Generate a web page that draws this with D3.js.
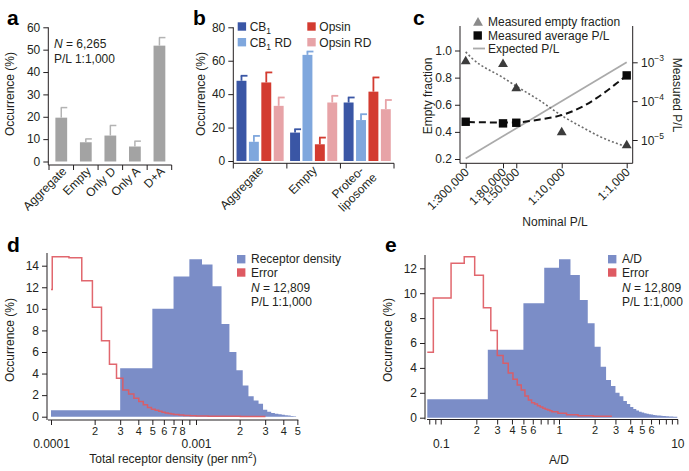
<!DOCTYPE html>
<html><head><meta charset="utf-8">
<script src="https://cdn.jsdelivr.net/npm/d3@7"></script>
<style>
body{margin:0;background:#fff}
svg{display:block}
</style></head><body>
<svg id="fig" width="689" height="471"></svg>
<script>
// ---------------- DATA ----------------
// Panel a
const aCategories = ["Aggregate","Empty","Only D","Only A","D+A"];
const aValues = [19.6, 8.6, 11.6, 6.7, 51.8];
const aErrors = [4.5, 1.5, 4.5, 2.4, 3.6];
const aYTicks = [0,10,20,30,40,50,60];

// Panel b
const bGroups = ["Aggregate","Empty","Proteo-|liposome"];
const bSeries = ["CB1","CB1 RD","Opsin","Opsin RD"];
const bCB1 = [48, 17, 35];
const bCB1RD = [11.5, 63.5, 24.5];
const bOpsin = [47, 10, 41.5];
const bOpsinRD = [33, 35, 31];
const bCB1Err = [3, 2, 3];
const bCB1RDErr = [3.5, 2, 3.5];
const bOpsinErr = [6, 4, 8.5];
const bOpsinRDErr = [5, 4, 5.5];
const bYTicks = [0,20,40,60,80];

// Panel c
const cNominalLabels = ["1:300,000","1:80,000","1:50,000","1:10,000","1:1,000"];
const cNominal = [1/300000, 1/80000, 1/50000, 1/10000, 1/1000];
const cEmptyFraction = [0.92, 0.90, 0.72, 0.396, 0.30];
const cMeasuredNominal = [1/300000, 1/80000, 1/50000, 1/1000];
const cMeasuredPL = [2.95e-5, 2.68e-5, 2.78e-5, 4.6e-4];
const cEmptyFitNominal = [3.33e-6, 4.12e-6, 1.25e-5, 2.03e-5, 4.63e-5, 1e-4, 2.15e-4, 3.88e-4, 1e-3];
const cEmptyFit = [0.99, 0.945, 0.80, 0.735, 0.63, 0.52, 0.43, 0.365, 0.29];
const cPLFitNominal = [3.6e-6, 1.25e-5, 2.03e-5, 4.63e-5, 1e-4, 2.15e-4, 4.37e-4, 7.0e-4, 1e-3];
const cPLFit = [2.9e-5, 2.82e-5, 2.85e-5, 3.39e-5, 4.37e-5, 7.41e-5, 1.58e-4, 2.88e-4, 4.62e-4];
const cExpectedNominal = [1/300000, 1/1000];
const cExpectedPL = [1/300000, 1/1000];
const cLeftTicks = [0.2,0.4,0.6,0.8,1.0];
const cRightTicks = [1e-5,1e-4,1e-3];
const cRightExp = ["−5","−4","−3"];

// Panel d
const dDensityEdges = [1e-4,3e-4,5e-4,7e-4,9e-4,1.1e-3,1.3e-3,1.5e-3,1.7e-3,1.9e-3,2.1e-3,2.3e-3,2.5e-3,2.7e-3,2.9e-3,3.1e-3,3.3e-3,3.5e-3,3.7e-3,3.9e-3,4.1e-3,4.3e-3,4.5e-3,4.7e-3,4.9e-3];
const dDensityValues = [0.6,4.5,10.0,13.0,14.6,14.1,12.1,8.6,6.0,4.3,2.9,1.9,1.5,1.2,0.65,0.45,0.35,0.28,0.22,0.17,0.13,0.1,0.07,0.05];
const dErrorEdges = [0.72e-4,1.02e-4,1.33e-4,1.63e-4,1.93e-4,2.23e-4,2.53e-4,2.83e-4,3.13e-4,3.43e-4,3.73e-4,4.03e-4,4.33e-4,4.63e-4,4.93e-4,5.23e-4,5.53e-4,5.83e-4,6.13e-4,6.43e-4,6.73e-4,7.03e-4,7.63e-4,8.23e-4,9.13e-4,10.03e-4,12.13e-4,15.13e-4,20.23e-4,30.13e-4];
const dErrorValues = [11.8,14.83,14.74,12.6,10.14,7.04,4.86,3.56,2.47,2.1,1.7,1.4,1.1,0.85,0.7,0.6,0.5,0.42,0.35,0.3,0.26,0.2,0.16,0.12,0.09,0.07,0.05,0.04,0.03];
const dXTicks = [1e-4,2e-4,3e-4,4e-4,5e-4,6e-4,7e-4,8e-4,9e-4,1e-3,2e-3,3e-3,4e-3,5e-3];
const dXLabels = ["0.0001","2","3","4","5","6","7","8","","0.001","2","3","4","5"];
const dYTicks = [0,2,4,6,8,10,12,14];

// Panel e
const eRatioEdges = [0,0.25,0.5,0.75,1,1.25,1.5,1.75,2,2.25,2.5,2.75,3,3.25,3.5,3.75,4,4.25,4.5,4.75,5,5.25,5.5,5.75,6,6.25,6.5,6.75,7,7.25,7.5,7.75,8,8.25,8.5,8.75,9,9.25,9.5,9.75,10];
const eRatioValues = [1.48,5.46,9.19,12.05,12.72,11.46,9.45,7.58,5.7,4.1,3.03,2.55,2.0,1.72,1.35,1.1,0.85,0.7,0.58,0.48,0.42,0.36,0.32,0.28,0.25,0.22,0.2,0.18,0.17,0.15,0.14,0.13,0.12,0.11,0.1,0.09,0.09,0.08,0.07,0.07];
const eErrorEdges = [0.0509,0.0866,0.1223,0.158,0.1937,0.2294,0.2651,0.3008,0.3365,0.3722,0.4079,0.4436,0.4793,0.515,0.5507,0.5864,0.6221,0.6578,0.6935,0.7292,0.7649,0.8006,0.8363,0.872,0.979,1.157,1.45,1.95,2.8];
const eErrorValues = [5.25,9.62,12.4,12.93,11.45,8.84,7.0,5.0,4.37,3.6,3.08,2.62,2.22,1.74,1.42,1.2,1.1,0.95,0.85,0.75,0.68,0.62,0.56,0.48,0.35,0.24,0.16,0.11];
const eXTicks = [0.08,0.09,0.1,0.2,0.3,0.4,0.5,0.6,0.7,0.8,0.9,1,2,3,4,5,6,7,8,9,10];
const eXLabels = ["","","0.1","2","3","4","5","6","","","","1","2","3","4","5","6","","","","10"];
const eYTicks = [0,2,4,6,8,10,12];

// ---------------- STYLE ----------------
const FONT = "'Liberation Sans', Arial, Helvetica, sans-serif";
const AX = "#231f20";
const HIST_BLUE = "#7b8dc7";
const ERR_RED = "#de5a62";
const bColors = ["#3a56a5","#7fa7dd","#d33b30","#e7a3a7"];

const svg = d3.select("#fig").attr("font-family", FONT);

function styleAxis(g){
  g.selectAll("path,line").attr("stroke",AX).attr("stroke-width",1);
  g.selectAll("text").attr("fill",AX).attr("font-size",12).attr("font-family",FONT);
}
function leftAxis(scale, x, ticks, fmt, top, bottom){
  const g = svg.append("g").attr("transform",`translate(${x},0)`)
    .call(d3.axisLeft(scale).tickValues(ticks).tickFormat(fmt).tickSize(5).tickSizeOuter(0).tickPadding(3));
  g.select(".domain").attr("d",`M0,${top}V${bottom}`);
  styleAxis(g);
  return g;
}
function panelLetter(t,x,y){
  svg.append("text").attr("x",x).attr("y",y).text(t)
    .attr("font-size",21).attr("font-weight","bold").attr("fill","#000");
}
function yTitle(t,x,y){
  svg.append("text").attr("transform",`translate(${x},${y}) rotate(-90)`)
    .attr("text-anchor","middle").attr("font-size",12).attr("fill",AX).text(t);
}

// ---------------- PANEL a ----------------
panelLetter("a",7,25);
const xA = d3.scaleBand().domain(aCategories).range([49,171.7]);
const yA = d3.scaleLinear().domain([0,60]).range([161.5,27.3]);
leftAxis(yA, 48.3, aYTicks, d3.format("d"), 27.3, 165);
const axA = svg.append("g");
axA.append("line").attr("x1",48.3).attr("x2",xA.range()[1]).attr("y1",165).attr("y2",165);
aCategories.concat(["_end"]).forEach((c,i)=>{
  const x = i<aCategories.length ? xA(c) : xA.range()[1];
  axA.append("line").attr("x1",x).attr("x2",x).attr("y1",165).attr("y2",170);
});
axA.selectAll("line").attr("stroke",AX).attr("stroke-width",1);
const bwA = xA.bandwidth();
svg.append("g").selectAll("rect").data(aValues).join("rect")
  .attr("x",(d,i)=>xA(aCategories[i])+bwA*0.26)
  .attr("width",bwA*0.48)
  .attr("y",d=>yA(d)).attr("height",d=>yA(0)-yA(d))
  .attr("fill","#a3a3a3");
const errA = svg.append("g").attr("stroke","#b3b3b3").attr("stroke-width",1.5);
aValues.forEach((v,i)=>{
  const cx = xA(aCategories[i])+bwA/2;
  errA.append("line").attr("x1",cx).attr("x2",cx).attr("y1",yA(v)).attr("y2",yA(v+aErrors[i]));
  errA.append("line").attr("x1",cx-0.5).attr("x2",cx+6).attr("y1",yA(v+aErrors[i])).attr("y2",yA(v+aErrors[i]));
});
aCategories.forEach(c=>{
  svg.append("text").attr("transform",`translate(${xA(c)+bwA/2+6},172) rotate(-45)`)
    .attr("text-anchor","end").attr("font-size",12).attr("fill",AX).text(c);
});
yTitle("Occurrence (%)",14,94);
const aNote = svg.append("text").attr("x",54).attr("y",48).attr("font-size",12).attr("fill",AX);
aNote.append("tspan").attr("font-style","italic").text("N");
aNote.append("tspan").text(" = 6,265");
svg.append("text").attr("x",54).attr("y",63).attr("font-size",12).attr("fill",AX).text("P/L 1:1,000");

// ---------------- PANEL b ----------------
panelLetter("b",193,25);
const xB = d3.scaleBand().domain(bGroups).range([233.3,394]);
const xBin = d3.scaleBand().domain(bSeries).range([0,xB.bandwidth()]).paddingInner(0.2).paddingOuter(0.26);
const yB = d3.scaleLinear().domain([0,80]).range([161,27.3]);
leftAxis(yB, 233.3, bYTicks, d3.format("d"), 27.3, 163.3);
const axB = svg.append("g");
axB.append("line").attr("x1",233.3).attr("x2",394).attr("y1",163.3).attr("y2",163.3);
bGroups.concat(["_end"]).forEach((g,i)=>{
  const x = i<bGroups.length ? xB(g) : xB.range()[1];
  axB.append("line").attr("x1",x).attr("x2",x).attr("y1",163.3).attr("y2",168.5);
});
axB.selectAll("line").attr("stroke",AX).attr("stroke-width",1);
const bAll = [bCB1,bCB1RD,bOpsin,bOpsinRD];
const bErrAll = [bCB1Err,bCB1RDErr,bOpsinErr,bOpsinRDErr];
bSeries.forEach((s,si)=>{
  const gs = svg.append("g");
  bGroups.forEach((g,gi)=>{
    const v = bAll[si][gi], e = bErrAll[si][gi];
    const x0 = xB(g)+xBin(s), w = xBin.bandwidth(), cx = x0+w/2;
    gs.append("line").attr("x1",cx).attr("x2",cx).attr("y1",yB(v)).attr("y2",yB(v+e))
      .attr("stroke",bColors[si]).attr("stroke-width",1.8);
    gs.append("line").attr("x1",cx-0.8).attr("x2",cx+6).attr("y1",yB(v+e)).attr("y2",yB(v+e))
      .attr("stroke",bColors[si]).attr("stroke-width",1.8);
    gs.append("rect").attr("x",x0).attr("width",w).attr("y",yB(v)).attr("height",yB(0)-yB(v)).attr("fill",bColors[si]);
  });
});
bGroups.forEach((g,gi)=>{
  const cx = xB(g)+xB.bandwidth()/2;
  const lines = g.split("|");
  if(lines.length===1){
    svg.append("text").attr("transform",`translate(${cx+4},171) rotate(-45)`)
      .attr("text-anchor","end").attr("font-size",12).attr("fill",AX).text(g);
  } else {
    const t = svg.append("g").attr("transform",`translate(${cx+6},174) rotate(-45)`);
    const t2 = t.append("text").attr("text-anchor","middle").attr("font-size",12).attr("fill",AX).text(lines[1]);
    const w2 = t2.node().getComputedTextLength();
    t2.attr("x",-w2/2).attr("y",6);
    t.append("text").attr("text-anchor","middle").attr("font-size",12).attr("fill",AX).text(lines[0])
      .attr("x",-w2/2).attr("y",-8);
  }
});
yTitle("Occurrence (%)",205,94);
const legB = [[0,0],[0,1],[1,0],[1,1]];
bSeries.forEach((s,si)=>{
  const lx = 237.7 + legB[si][0]*69.6, ly = 22.3 + legB[si][1]*15.7;
  svg.append("rect").attr("x",lx).attr("y",ly).attr("width",8.4).attr("height",8.4).attr("fill",bColors[si]);
  const t = svg.append("text").attr("x",lx+12).attr("y",ly+8.6).attr("font-size",12).attr("fill",AX);
  if(s.startsWith("CB1")){
    t.append("tspan").text("CB");
    t.append("tspan").attr("font-size",8.5).attr("dy",3).text("1");
    if(s.length>3) t.append("tspan").attr("dy",-3).text(" RD");
  } else t.text(s);
});

// ---------------- PANEL c ----------------
panelLetter("c",413,25);
const xC = d3.scaleLog().domain([1/300000,1/1000]).range([465.7,626.7]);
const yL = d3.scaleLinear().domain([0.2,1.0]).range([159,50.5]);
const yR = d3.scaleLog().domain([1e-5,1e-3]).range([140,62.3]);
leftAxis(yL, 460, cLeftTicks, d3.format(".1f"), 26, 163.3);
const rAx = svg.append("g").attr("transform","translate(632.7,0)")
  .call(d3.axisRight(yR).tickValues(cRightTicks).tickFormat("").tickSize(5).tickSizeOuter(0));
rAx.select(".domain").attr("d","M0,26V163.3");
styleAxis(rAx);
cRightTicks.forEach((v,i)=>{
  const t = svg.append("text").attr("x",641).attr("y",yR(v)+4.5).attr("font-size",12).attr("fill",AX);
  t.append("tspan").text("10");
  t.append("tspan").attr("font-size",8.5).attr("dy",-6).text(cRightExp[i]);
});
const bAx = svg.append("g").attr("transform","translate(0,163.3)")
  .call(d3.axisBottom(xC).tickValues(cNominal).tickFormat("").tickSize(5).tickSizeOuter(0));
bAx.select(".domain").attr("d","M460,0H632.7");
styleAxis(bAx);
cNominal.forEach((v,i)=>{
  svg.append("text").attr("transform",`translate(${xC(v)+4},173) rotate(-45)`)
    .attr("text-anchor","end").attr("font-size",12).attr("fill",AX).text(cNominalLabels[i]);
});
svg.append("text").attr("x",555).attr("y",226).attr("text-anchor","middle").attr("font-size",12).attr("fill",AX).text("Nominal P/L");
yTitle("Empty fraction",432,96);
svg.append("text").attr("transform","translate(673,95) rotate(90)").attr("text-anchor","middle")
  .attr("font-size",12).attr("fill",AX).text("Measured P/L");
svg.append("path").datum(cExpectedNominal.map((n,i)=>[n,cExpectedPL[i]]))
  .attr("d",d3.line().x(d=>xC(d[0])).y(d=>yR(d[1])))
  .attr("fill","none").attr("stroke","#aaaaaa").attr("stroke-width",1.8);
svg.append("path").datum(cEmptyFitNominal.map((n,i)=>[n,cEmptyFit[i]]))
  .attr("d",d3.line().x(d=>xC(d[0])).y(d=>yL(d[1])).curve(d3.curveMonotoneX))
  .attr("fill","none").attr("stroke","#6d6d6d").attr("stroke-width",1.6).attr("stroke-dasharray","2,2.2");
svg.append("path").datum(cPLFitNominal.map((n,i)=>[n,cPLFit[i]]))
  .attr("d",d3.line().x(d=>xC(d[0])).y(d=>yR(d[1])).curve(d3.curveMonotoneX))
  .attr("fill","none").attr("stroke","#111").attr("stroke-width",2).attr("stroke-dasharray","7,4");
const tri = d3.symbol().type(d3.symbolTriangle).size(42);
svg.append("g").selectAll("path").data(cEmptyFraction).join("path")
  .attr("transform",(d,i)=>`translate(${xC(cNominal[i])},${yL(d)})`)
  .attr("d",tri).attr("fill","#3c3c3c");
svg.append("g").selectAll("rect").data(cMeasuredPL).join("rect")
  .attr("x",(d,i)=>xC(cMeasuredNominal[i])-4.2).attr("y",d=>yR(d)-4.2)
  .attr("width",8.4).attr("height",8.4).attr("fill","#0a0a0a");
// legend c
svg.append("path").attr("transform","translate(478,22.8)").attr("d",tri).attr("fill","#8a8a8a");
svg.append("text").attr("x",488).attr("y",26.3).attr("font-size",12).attr("fill",AX).text("Measured empty fraction");
svg.append("rect").attr("x",473.5).attr("y",31.3).attr("width",8.4).attr("height",8.4).attr("fill","#0a0a0a");
svg.append("text").attr("x",488).attr("y",39.6).attr("font-size",12).attr("fill",AX).text("Measured average P/L");
svg.append("line").attr("x1",473).attr("x2",485).attr("y1",48.5).attr("y2",48.5).attr("stroke","#aaaaaa").attr("stroke-width",1.8);
svg.append("text").attr("x",488).attr("y",53.3).attr("font-size",12).attr("fill",AX).text("Expected P/L");

// ---------------- histogram helpers ----------------
function histPath(x,y,edges,vals){
  const lo = x.domain()[0];
  let p = `M${x(Math.max(edges[0],lo))},${y(0)}`;
  vals.forEach((v,i)=>{
    p += `L${x(Math.max(edges[i],lo))},${y(v)}L${x(edges[i+1])},${y(v)}`;
  });
  return p + `L${x(edges[edges.length-1])},${y(0)}Z`;
}
function stepPath(x,y,edges,vals){
  const lo = x.domain()[0];
  let p = "";
  vals.forEach((v,i)=>{
    const x0 = x(Math.max(edges[i],lo)), x1 = x(edges[i+1]);
    p += (i===0?"M":"L")+`${x0},${y(v)}L${x1},${y(v)}`;
  });
  return p;
}
function logXAxis(scale, yPos, ticks, labels, x0, x1){
  const g = svg.append("g").attr("transform",`translate(0,${yPos})`)
    .call(d3.axisBottom(scale).tickValues(ticks).tickFormat((d,i)=>labels[i]).tickSize(5).tickSizeOuter(0).tickPadding(2));
  g.select(".domain").attr("d",`M${x0},0H${x1}`);
  styleAxis(g);
  g.selectAll(".tick text").attr("font-size",11);
  g.selectAll(".tick text").filter(function(){return this.textContent.length>1;})
    .attr("font-size",12).attr("y",19.5);
  return g;
}
function histLegend(x, label){
  svg.append("rect").attr("x",x).attr("y",255).attr("width",8.4).attr("height",8.4).attr("fill",HIST_BLUE);
  svg.append("text").attr("x",x+14).attr("y",263.3).attr("font-size",12).attr("fill",AX).text(label);
  svg.append("rect").attr("x",x).attr("y",268.3).attr("width",8.4).attr("height",8.4).attr("fill",ERR_RED);
  svg.append("text").attr("x",x+14).attr("y",277).attr("font-size",12).attr("fill",AX).text("Error");
  const t = svg.append("text").attr("x",x+14).attr("y",292).attr("font-size",12).attr("fill",AX);
  t.append("tspan").attr("font-style","italic").text("N");
  t.append("tspan").text(" = 12,809");
  svg.append("text").attr("x",x+14).attr("y",305.8).attr("font-size",12).attr("fill",AX).text("P/L 1:1,000");
}

// ---------------- PANEL d ----------------
panelLetter("d",7,252);
const xD = d3.scaleLog().domain([1e-4,5e-3]).range([51, 51+145*Math.log10(50)]);
const yD = d3.scaleLinear().domain([0,14]).range([416.7,265.7]);
svg.append("path").attr("d",histPath(xD,yD,dDensityEdges,dDensityValues)).attr("fill",HIST_BLUE);
svg.append("path").attr("d",stepPath(xD,yD,dErrorEdges,dErrorValues))
  .attr("fill","none").attr("stroke",ERR_RED).attr("stroke-width",1.5).attr("opacity",0.92);
leftAxis(yD, 47, dYTicks, d3.format("d"), 253, 420);
logXAxis(xD, 420, dXTicks, dXLabels, 48, xD(5e-3)+1);
yTitle("Occurrence (%)",14,340);
const dT = svg.append("text").attr("x",173).attr("y",463).attr("text-anchor","middle").attr("font-size",12).attr("fill",AX);
dT.append("tspan").text("Total receptor density (per nm");
dT.append("tspan").attr("font-size",8.5).attr("dy",-5).text("2");
dT.append("tspan").attr("dy",5).text(")");
histLegend(237, "Receptor density");

// ---------------- PANEL e ----------------
panelLetter("e",385,252);
const xE = d3.scaleLog().domain([0.077,10]).range([427.3,677.3]);
const yE = d3.scaleLinear().domain([0,12]).range([417.7,268.3]);
svg.append("path").attr("d",histPath(xE,yE,eRatioEdges,eRatioValues)).attr("fill",HIST_BLUE);
svg.append("path").attr("d",stepPath(xE,yE,eErrorEdges,eErrorValues))
  .attr("fill","none").attr("stroke",ERR_RED).attr("stroke-width",1.5).attr("opacity",0.92);
leftAxis(yE, 425, eYTicks, d3.format("d"), 255, 419.5);
logXAxis(xE, 419.5, eXTicks, eXLabels, 427, 678);
yTitle("Occurrence (%)",392,340);
svg.append("text").attr("x",559).attr("y",464).attr("text-anchor","middle").attr("font-size",12).attr("fill",AX).text("A/D");
histLegend(608, "A/D");
</script>
</body></html>
